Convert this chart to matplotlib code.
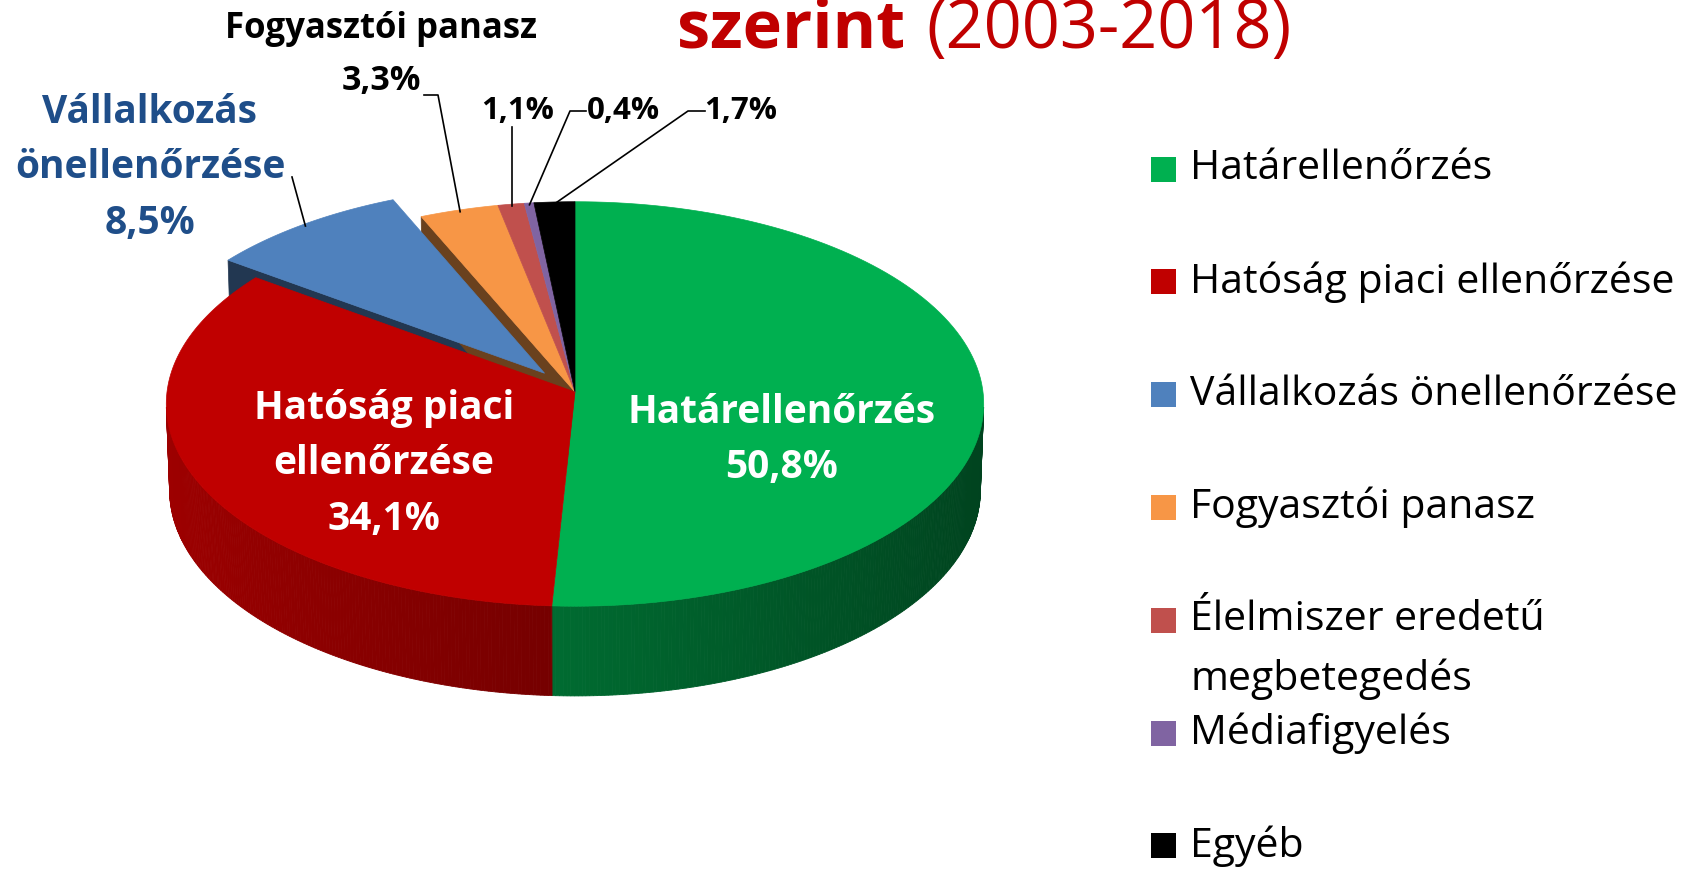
import numpy as np
import matplotlib.pyplot as plt
from matplotlib.patches import Polygon, Rectangle

# data
categories = ['Határellenőrzés', 'Hatóság piaci ellenőrzése', 'Vállalkozás önellenőrzése',
              'Fogyasztói panasz', 'Élelmiszer eredetű megbetegedés', 'Médiafigyelés', 'Egyéb']
legend_labels = ['Határellenőrzés', 'Hatóság piaci ellenőrzése', 'Vállalkozás önellenőrzése',
                 'Fogyasztói panasz', 'Élelmiszer eredetű\nmegbetegedés', 'Médiafigyelés', 'Egyéb']
shares = [50.8, 34.1, 8.5, 3.3, 1.1, 0.4, 1.7]
explode = [0, 0, 0.12, 0, 0, 0, 0]
colors = ['#00B050', '#C00000', '#4F81BD', '#F79646', '#C0504D', '#8064A2', '#000000']
title_bold = 'szerint'
title_rest = '(2003-2018)'

FONT = 'Open Sans'
W, H = 1684, 869

# simple perspective camera for the 3D pie (pixel space)
CX, CY = 575, 392
ALPHA = np.radians(29.6)
DIST = 14.7
FOC = 408 * DIST
THICK = 0.245
cam = np.array([0.0, -DIST * np.cos(ALPHA), DIST * np.sin(ALPHA)])


def proj(x, y, z):
    zc = DIST + y * np.cos(ALPHA) - z * np.sin(ALPHA)
    sx = CX + FOC * x / zc
    sy = CY - FOC * (y * np.sin(ALPHA) + z * np.cos(ALPHA)) / zc
    return sx, sy


def shade(col, f):
    r, g, b = [int(col[i:i + 2], 16) / 255 for i in (1, 3, 5)]
    return (r * f, g * f, b * f)


def pct(v):
    return f'{v:.1f}%'.replace('.', ',')


fig = plt.figure(figsize=(W / 100, H / 100), dpi=100)
ax = fig.add_axes([0, 0, 1, 1])
ax.set_xlim(0, W)
ax.set_ylim(H, 0)
ax.axis('off')

total = sum(shares)
edges = [90.0]
for v in shares:
    edges.append(edges[-1] - 360 * v / total)
n = len(shares)

offsets = []
for i in range(n):
    mid = np.radians((edges[i] + edges[i + 1]) / 2)
    offsets.append(np.array([np.cos(mid), np.sin(mid), 0.0]) * explode[i])


def visible(normal, point):
    return np.dot(normal, cam - point) > 0


# radial faces next to the exploded slice
for i in range(n):
    for side in (0, 1):
        nb = (i - 1) % n if side == 0 else (i + 1) % n
        if explode[i] == 0 and explode[nb] == 0:
            continue
        a = np.radians(edges[i] if side == 0 else edges[i + 1])
        if side == 0:
            nrm = np.array([-np.sin(a), np.cos(a), 0])
        else:
            nrm = np.array([np.sin(a), -np.cos(a), 0])
        o = offsets[i]
        p = o + 0.5 * np.array([np.cos(a), np.sin(a), -THICK])
        if not visible(nrm, p):
            continue
        pts = [proj(o[0], o[1], 0), proj(o[0] + np.cos(a), o[1] + np.sin(a), 0),
               proj(o[0] + np.cos(a), o[1] + np.sin(a), -THICK), proj(o[0], o[1], -THICK)]
        c = shade(colors[i], 0.43)
        ax.add_patch(Polygon(pts, closed=True, fc=c, ec=c, lw=0.5))

# outer walls with a left-to-right shading
for i in range(n):
    o = offsets[i]
    th = np.linspace(edges[i], edges[i + 1], max(4, int(abs(edges[i] - edges[i + 1]) * 2)))
    for t0, t1 in zip(th[:-1], th[1:]):
        m = np.radians((t0 + t1) / 2)
        nrm = np.array([np.cos(m), np.sin(m), 0])
        if not visible(nrm, o + np.array([np.cos(m), np.sin(m), -THICK / 2])):
            continue
        a0, a1 = np.radians(t0), np.radians(t1)
        pts = [proj(o[0] + np.cos(a0), o[1] + np.sin(a0), 0),
               proj(o[0] + np.cos(a1), o[1] + np.sin(a1), 0),
               proj(o[0] + np.cos(a1), o[1] + np.sin(a1), -THICK),
               proj(o[0] + np.cos(a0), o[1] + np.sin(a0), -THICK)]
        c = shade(colors[i], 0.6 - 0.22 * np.cos(m))
        ax.add_patch(Polygon(pts, closed=True, fc=c, ec=c, lw=0.6))

# top faces
for i in range(n):
    o = offsets[i]
    th = np.radians(np.linspace(edges[i], edges[i + 1], 120))
    pts = [proj(o[0], o[1], 0)] + [proj(o[0] + np.cos(t), o[1] + np.sin(t), 0) for t in th]
    ax.add_patch(Polygon(pts, closed=True, fc=colors[i], ec=colors[i], lw=0.5))


def rim_point(i):
    m = np.radians((edges[i] + edges[i + 1]) / 2)
    o = offsets[i]
    return proj(o[0] + 0.99 * np.cos(m), o[1] + 0.99 * np.sin(m), 0)


# labels inside the two big slices
ax.text(782, 440, f'{categories[0]}\n{pct(shares[0])}', color='white', fontsize=28,
        fontweight='bold', family=FONT, ha='center', va='center', linespacing=1.55)
ax.text(384, 464, 'Hatóság piaci\nellenőrzése\n' + pct(shares[1]), color='white', fontsize=28,
        fontweight='bold', family=FONT, ha='center', va='center', linespacing=1.55)

# blue slice label
ax.text(150, 168, 'Vállalkozás\nönellenőrzése\n' + pct(shares[2]), color='#1F4E89', fontsize=28,
        fontweight='bold', family=FONT, ha='center', va='center', linespacing=1.55)
rx, ry = rim_point(2)
ax.plot([292, rx], [177, ry], color='black', lw=1.2)

# orange slice label
ax.text(381, 29, categories[3], fontsize=25, fontweight='bold', family=FONT,
        ha='center', va='center')
ax.text(381, 81, pct(shares[3]), fontsize=24.5, fontweight='bold', family=FONT,
        ha='center', va='center')
rx, ry = rim_point(3)
ax.plot([424, 438, rx], [95, 95, ry], color='black', lw=1.2)

# the three thin slices
ax.text(518, 111, pct(shares[4]), fontsize=22.5, fontweight='bold', family=FONT,
        ha='center', va='center')
rx, ry = rim_point(4)
ax.plot([rx, rx], [127, ry], color='black', lw=1.2)

ax.text(623, 111, pct(shares[5]), fontsize=22.5, fontweight='bold', family=FONT,
        ha='center', va='center')
rx, ry = rim_point(5)
ax.plot([586, 570, rx], [111, 111, ry], color='black', lw=1.2)

ax.text(741, 111, pct(shares[6]), fontsize=22.5, fontweight='bold', family=FONT,
        ha='center', va='center')
rx, ry = rim_point(6)
ax.plot([705, 688, rx], [111, 111, ry], color='black', lw=1.2)

# legend
for k, lab in enumerate(legend_labels):
    yk = 169 + 112.8 * k
    ax.add_patch(Rectangle((1151, yk - 12.5), 25, 25, fc=colors[k], ec='none'))
    for j, line in enumerate(lab.split('\n')):
        ax.text(1190, yk + 59 * j, line, fontsize=29.5, family=FONT, ha='left', va='center')

# title (top line is cut off in the original)
ax.text(677, 48, title_bold, color='#C00000', fontsize=48, fontweight='bold', family=FONT,
        ha='left', va='baseline')
ax.text(926, 48, title_rest, color='#C00000', fontsize=48, family=FONT,
        ha='left', va='baseline')

fig.savefig('out.png', dpi=100)
